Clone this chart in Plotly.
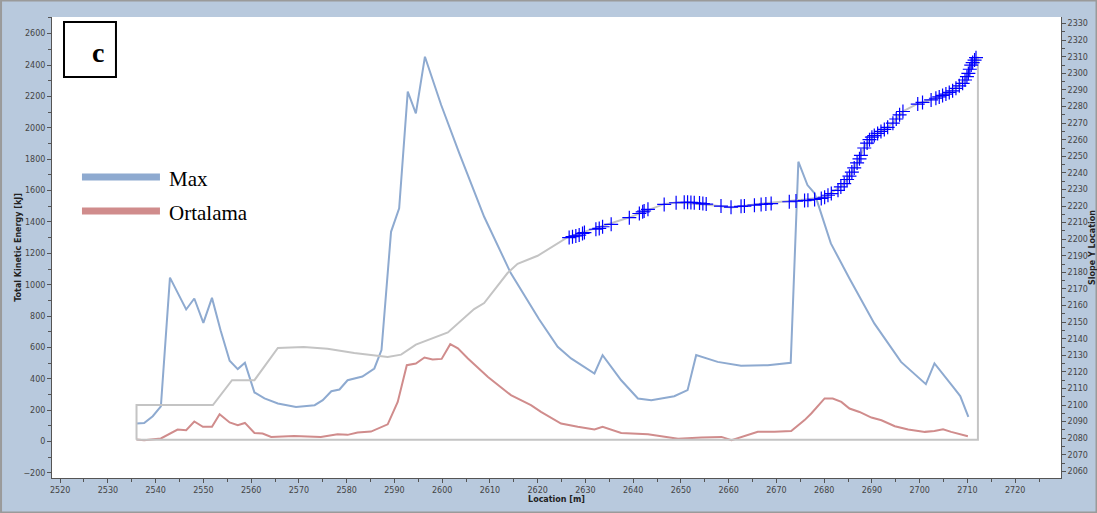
import plotly.graph_objects as go

# total kinetic energy along the slope (left axis)
loc_max = [2536, 2537.6, 2539.4, 2541.1, 2543, 2546.4, 2548.1, 2550, 2551.8, 2553.6,
           2555.5, 2557.2, 2558.7, 2560.7, 2562.8, 2565.6, 2569.4, 2573.3, 2575, 2576.8,
           2578.5, 2580.2, 2583.3, 2585.8, 2587.3, 2589.3, 2591, 2592.8, 2594.5, 2596.4,
           2599.8, 2603.6, 2608.8, 2614.4, 2620.3, 2624.2, 2627, 2631.9, 2633.6, 2637.5,
           2641, 2643.8, 2648.6, 2651.4, 2653.2, 2657.7, 2662.6, 2668.2, 2673, 2674.6,
           2676.5, 2678, 2681.4, 2685.3, 2690.5, 2696.1, 2701.3, 2703.1, 2707, 2708.5,
           2710.2]
max_kj = [115, 119, 162, 225, 1045, 842, 912, 757, 916, 710,
          515, 462, 502, 313, 275, 243, 220, 232, 264, 321,
          332, 391, 415, 466, 583, 1337, 1487, 2230, 2092, 2453,
          2145, 1837, 1433, 1072, 780, 604, 530, 434, 551, 391,
          275, 264, 289, 328, 551, 508, 483, 487, 502, 1784,
          1635, 1582, 1263, 1040, 753, 508, 366, 498, 349, 290,
          158]

loc_avg = [2536, 2537.6, 2541.1, 2544.6, 2546.4, 2548.1, 2549.9, 2551.8, 2553.4, 2555.5,
           2557.2, 2558.7, 2560.7, 2562.4, 2564.2, 2569, 2574.6, 2578.1, 2580.2, 2582.3,
           2585.1, 2588.6, 2590.7, 2592.6, 2594.5, 2596.3, 2598, 2599.9, 2601.7, 2603.3,
           2605.4, 2609.6, 2614.4, 2618.6, 2620.7, 2624.9, 2628.4, 2631.9, 2633.6, 2637.5,
           2643.1, 2649.4, 2654.3, 2658.5, 2660.6, 2662.6, 2666.1, 2669.6, 2673.1, 2675.9,
           2677.3, 2680.1, 2681.8, 2683.6, 2685.3, 2687.4, 2689.9, 2692, 2694.8, 2697.6,
           2701.1, 2703.1, 2704.9, 2706.6, 2710.1]
avg_kj = [14, 8, 20, 77, 72, 128, 94, 94, 175, 122,
          105, 119, 55, 51, 30, 36, 30, 47, 43, 58,
          64, 110, 253, 487, 498, 536, 523, 527, 621, 594,
          530, 412, 296, 232, 189, 115, 94, 77, 94, 55,
          47, 18, 26, 30, 9, 30, 62, 62, 68, 137,
          179, 275, 275, 253, 211, 189, 153, 136, 98, 77,
          62, 68, 79, 62, 34]

# slope profile (right axis)
loc_slope = [2536, 2536, 2552, 2556, 2560.7, 2565.6, 2571, 2576, 2581.6, 2588.6,
             2591.4, 2594.5, 2601.2, 2606.7, 2608.8, 2613.7, 2615.8, 2620, 2626.3, 2633.3,
             2639.3, 2642.4, 2646.6, 2649, 2655.6, 2660.6, 2668.2, 2675.9, 2680.1, 2683.6,
             2685.3, 2687.1, 2688.5, 2690.2, 2692.3, 2694.4, 2696.5, 2699.6, 2702.4, 2705.2,
             2708, 2709.7, 2710.8, 2712.2, 2712.2, 2536]
slope_y = [2079, 2100, 2100, 2115, 2115, 2134.4, 2135, 2134, 2131.4, 2129,
           2130.4, 2136.4, 2143.8, 2157.9, 2161.5, 2179.6, 2185.2, 2190, 2201.3, 2207.7,
           2213.2, 2216.8, 2221.3, 2222.2, 2220.8, 2219.2, 2221.9, 2223.9, 2225.5, 2231.9,
           2237.9, 2247, 2256, 2262, 2265.6, 2270.1, 2277.1, 2281.7, 2284.2, 2287.2,
           2292.2, 2297.2, 2305.3, 2310, 2079, 2079]

# rock positions (right axis)
loc_pts = [2626.6, 2627.3, 2628.0, 2628.7, 2629.4, 2629.8, 2632.2, 2632.9, 2633.6, 2635.4,
           2639.2, 2641.3, 2642.0, 2642.3, 2643.1, 2646.5, 2649.0, 2650.7, 2651.4, 2652.1,
           2652.8, 2653.9, 2654.6, 2655.3, 2658.4, 2660.5, 2662.6, 2663.3, 2665.4, 2666.8,
           2667.8, 2668.9, 2672.7, 2674.1, 2675.9, 2676.6, 2678.0, 2679.4, 2680.1, 2680.8,
           2681.5, 2682.9, 2683.5, 2684.2, 2684.8, 2685.3, 2685.8, 2686.3, 2686.9, 2687.4,
           2687.7, 2688.4, 2689.0, 2689.5, 2690.0, 2690.5, 2691.2, 2691.9, 2692.6, 2693.3,
           2694.4, 2695.1, 2695.8, 2696.5, 2699.6, 2700.6, 2702.4, 2703.4, 2704.1, 2704.8,
           2705.5, 2706.2, 2706.9, 2707.6, 2708.3, 2709.0, 2709.5, 2709.9, 2710.2, 2710.5,
           2710.8, 2711.1, 2711.5, 2711.8]
pts_y = [2201, 2201.5, 2202, 2202.5, 2203.5, 2204, 2206, 2206.5, 2207.5, 2209,
         2213, 2215.5, 2216.5, 2217, 2218, 2221, 2222, 2222.3, 2222.3, 2222.2,
         2222, 2221.8, 2221.5, 2221.2, 2220, 2219.3, 2219.8, 2220, 2220.5, 2221,
         2221.2, 2221.5, 2222.6, 2223, 2223.3, 2223.5, 2224, 2224.6, 2225.3, 2226.5,
         2227.5, 2229.5, 2231.5, 2233.5, 2236, 2238, 2240.5, 2243, 2246, 2248.5,
         2250.5, 2255, 2258, 2260, 2261.5, 2262.5, 2263.8, 2265, 2266.2, 2267.5,
         2270, 2272.5, 2275, 2277, 2281.5, 2282.5, 2284, 2285, 2285.8, 2286.7,
         2287.5, 2288.5, 2289.5, 2291, 2292.5, 2294, 2296, 2298, 2300, 2302.5,
         2305, 2306.5, 2308, 2309.5]

BLUE = "#8eaad0"
RED = "#d08c8c"
GRAY = "#c4c4c4"
BG = "#b8c9dd"
TICKFONT = dict(family="DejaVu Sans", size=8, color="#444")
TITLEFONT = dict(family="DejaVu Sans", size=8, color="#222")

fig = go.Figure()

fig.add_trace(go.Scatter(x=loc_slope, y=slope_y, mode="lines", yaxis="y2",
                         line=dict(color=GRAY, width=2), showlegend=False))
fig.add_trace(go.Scatter(x=loc_max, y=max_kj, mode="lines", name="Max",
                         line=dict(color=BLUE, width=2), showlegend=False))
fig.add_trace(go.Scatter(x=loc_avg, y=avg_kj, mode="lines", name="Ortalama",
                         line=dict(color=RED, width=2), showlegend=False))
fig.add_trace(go.Scatter(x=loc_pts, y=pts_y, mode="markers", yaxis="y2",
                         marker=dict(symbol="cross-thin", size=10,
                                     line=dict(color="#0000ff", width=1.2)),
                         showlegend=False))

axis_common = dict(showgrid=False, zeroline=False, showline=True, linecolor="#555",
                   linewidth=1, ticks="outside", ticklen=4, tickcolor="#555",
                   tickfont=TICKFONT, automargin=False)

fig.update_layout(
    width=1097, height=513,
    margin=dict(l=52, r=36, t=17, b=35, autoexpand=False),
    paper_bgcolor=BG, plot_bgcolor="white",
    xaxis=dict(range=[2518.3, 2729.6], dtick=10, tick0=2520,
               minor=dict(dtick=5, ticks="outside", ticklen=3, tickcolor="#555"),
               title=dict(text="<b>Location [m]</b>", standoff=2, font=TITLEFONT),
               **axis_common),
    yaxis=dict(range=[-232, 2706], dtick=200, tick0=0,
               minor=dict(dtick=100, ticks="outside", ticklen=3, tickcolor="#555"),
               title=dict(text="<b>Total Kinetic Energy [kJ]</b>", standoff=0, font=TITLEFONT),
               **axis_common),
    yaxis2=dict(range=[2056, 2334], dtick=10, tick0=2070, overlaying="y", side="right",
                minor=dict(dtick=5, ticks="outside", ticklen=3, tickcolor="#555"),
                title=dict(text="<b>Slope Y Location</b>", standoff=2, font=TITLEFONT),
                **axis_common),
)

# panel label box
fig.add_shape(type="rect", xref="paper", yref="paper", x0=0.0119, x1=0.0634, y0=0.870, y1=0.989,
              line=dict(color="black", width=2), fillcolor="white")
fig.add_annotation(xref="paper", yref="paper", x=0.0377, y=0.962, text="<b>c</b>",
                   showarrow=False, font=dict(family="Liberation Serif", size=28, color="black"))

# legend drawn by hand
for yy, col, label in [(0.653, BLUE, "Max"), (0.579, RED, "Ortalama")]:
    fig.add_shape(type="line", xref="paper", yref="paper", x0=0.0297, x1=0.107, y0=yy, y1=yy,
                  line=dict(color=col, width=7))
    fig.add_annotation(xref="paper", yref="paper", x=0.114, y=yy - 0.004, text=label,
                       xanchor="left", showarrow=False,
                       font=dict(family="Liberation Serif", size=21, color="black"))

# outer frame
fig.add_shape(type="rect", xref="paper", yref="paper", x0=-0.0505, x1=1.0352, y0=-0.0749, y1=1.0358,
              line=dict(color="#9a9a9a", width=2))

fig.write_html("out.html", config={"displayModeBar": False},
               post_script="document.body.style.margin='0';")
